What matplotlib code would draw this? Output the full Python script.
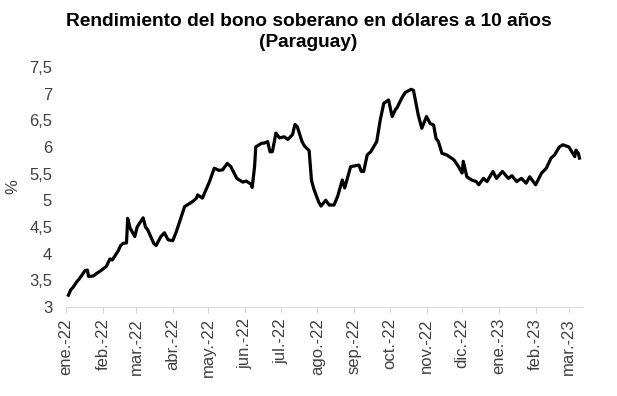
import numpy as np
import pandas as pd
import matplotlib
matplotlib.use("Agg")
import matplotlib.pyplot as plt
import matplotlib.dates as mdates

plt.rcParams['font.family'] = ['Liberation Sans', 'DejaVu Sans']

# Rendimiento (%)
fechas = [
    "2022-01-03", "2022-01-05", "2022-01-07", "2022-01-10", "2022-01-12", "2022-01-17",
    "2022-01-19", "2022-01-20", "2022-01-24", "2022-01-27", "2022-01-31", "2022-02-04",
    "2022-02-07", "2022-02-09", "2022-02-14", "2022-02-16", "2022-02-18", "2022-02-21",
    "2022-02-22", "2022-02-24", "2022-02-28", "2022-03-02", "2022-03-07", "2022-03-09",
    "2022-03-11", "2022-03-16", "2022-03-18", "2022-03-22", "2022-03-25", "2022-03-28",
    "2022-04-01", "2022-04-04", "2022-04-11", "2022-04-18", "2022-04-21", "2022-04-22",
    "2022-04-26", "2022-05-02", "2022-05-06", "2022-05-10", "2022-05-13", "2022-05-17",
    "2022-05-20", "2022-05-25", "2022-05-30", "2022-06-02", "2022-06-06", "2022-06-07",
    "2022-06-09", "2022-06-10", "2022-06-15", "2022-06-17", "2022-06-20", "2022-06-22",
    "2022-06-24", "2022-06-27", "2022-06-30", "2022-07-04", "2022-07-07", "2022-07-11",
    "2022-07-13", "2022-07-15", "2022-07-19", "2022-07-21", "2022-07-25", "2022-07-27",
    "2022-07-29", "2022-08-02", "2022-08-04", "2022-08-08", "2022-08-11", "2022-08-15",
    "2022-08-18", "2022-08-22", "2022-08-24", "2022-08-29", "2022-09-05", "2022-09-07",
    "2022-09-09", "2022-09-12", "2022-09-15", "2022-09-20", "2022-09-23", "2022-09-26",
    "2022-09-30", "2022-10-03", "2022-10-06", "2022-10-07", "2022-10-11", "2022-10-14",
    "2022-10-19", "2022-10-21", "2022-10-25", "2022-10-28", "2022-11-01", "2022-11-04",
    "2022-11-07", "2022-11-09", "2022-11-11", "2022-11-14", "2022-11-18", "2022-11-24",
    "2022-11-28", "2022-12-01", "2022-12-02", "2022-12-05", "2022-12-09", "2022-12-13",
    "2022-12-15", "2022-12-19", "2022-12-22", "2022-12-27", "2022-12-30", "2023-01-04",
    "2023-01-09", "2023-01-12", "2023-01-16", "2023-01-20", "2023-01-24", "2023-01-27",
    "2023-02-01", "2023-02-06", "2023-02-10", "2023-02-14", "2023-02-17", "2023-02-21",
    "2023-02-24", "2023-03-01", "2023-03-06", "2023-03-07", "2023-03-09", "2023-03-10",
]
rendimiento = [
    3.22, 3.32, 3.37, 3.47, 3.52, 3.68,
    3.69, 3.57, 3.58, 3.63, 3.69, 3.76,
    3.90, 3.88, 4.05, 4.15, 4.19, 4.20,
    4.66, 4.48, 4.32, 4.50, 4.67, 4.50,
    4.44, 4.19, 4.15, 4.32, 4.39, 4.26,
    4.24, 4.41, 4.88, 4.98, 5.04, 5.10,
    5.04, 5.35, 5.60, 5.56, 5.57, 5.69,
    5.63, 5.41, 5.34, 5.36, 5.30, 5.24,
    5.63, 6.00, 6.07, 6.07, 6.10, 5.91,
    5.91, 6.26, 6.17, 6.19, 6.14, 6.23,
    6.42, 6.38, 6.10, 6.02, 5.93, 5.37,
    5.21, 4.97, 4.89, 5.00, 4.91, 4.91,
    5.07, 5.38, 5.23, 5.63, 5.66, 5.54,
    5.54, 5.85, 5.91, 6.10, 6.51, 6.82,
    6.88, 6.57, 6.71, 6.73, 6.91, 7.02,
    7.08, 7.06, 6.60, 6.35, 6.57, 6.44,
    6.41, 6.16, 6.10, 5.88, 5.85, 5.76,
    5.63, 5.51, 5.73, 5.44, 5.38, 5.35,
    5.29, 5.41, 5.35, 5.54, 5.41, 5.54,
    5.41, 5.46, 5.35, 5.41, 5.32, 5.44,
    5.29, 5.51, 5.60, 5.79, 5.85, 6.00,
    6.04, 6.00, 5.82, 5.94, 5.88, 5.79,
]

meses = ["ene.-22", "feb.-22", "mar.-22", "abr.-22", "may.-22", "jun.-22", "jul.-22",
         "ago.-22", "sep.-22", "oct.-22", "nov.-22", "dic.-22", "ene.-23", "feb.-23",
         "mar.-23"]
y_ticks = [3, 3.5, 4, 4.5, 5, 5.5, 6, 6.5, 7, 7.5]

fechas = pd.to_datetime(fechas)
inicio_meses = pd.date_range("2022-01-01", periods=len(meses), freq="MS")

fig = plt.figure(figsize=(6.17, 3.96), dpi=100)
ax = fig.add_axes([0.107, 0.225, 0.838, 0.606])

ax.plot(fechas, rendimiento, color='black', linewidth=2.3, solid_joinstyle='round')

ax.set_ylim(3, 7.5)
ax.set_yticks(y_ticks)
ax.set_yticklabels([f"{t:g}".replace(".", ",") for t in y_ticks])
ax.set_xlim(pd.Timestamp("2022-01-01"), pd.Timestamp("2023-03-13"))
ax.set_xticks(inicio_meses)
ax.set_xticklabels(meses, rotation=90)

for s in ['top', 'right', 'left']:
    ax.spines[s].set_visible(False)
ax.spines['bottom'].set_color('#d9d9d9')
ax.tick_params(axis='y', length=0, pad=10, labelsize=12, labelcolor='#404040')
ax.tick_params(axis='x', length=4, color='#d9d9d9', pad=4, labelsize=12, labelcolor='#404040')

ax.set_ylabel('%', fontsize=12, color='#404040', labelpad=6)

fig.suptitle("Rendimiento del bono soberano en dólares a 10 años\n(Paraguay)",
             fontsize=13.8, fontweight='bold', y=0.968, linespacing=1.35)

fig.savefig("out.png", dpi=100)
